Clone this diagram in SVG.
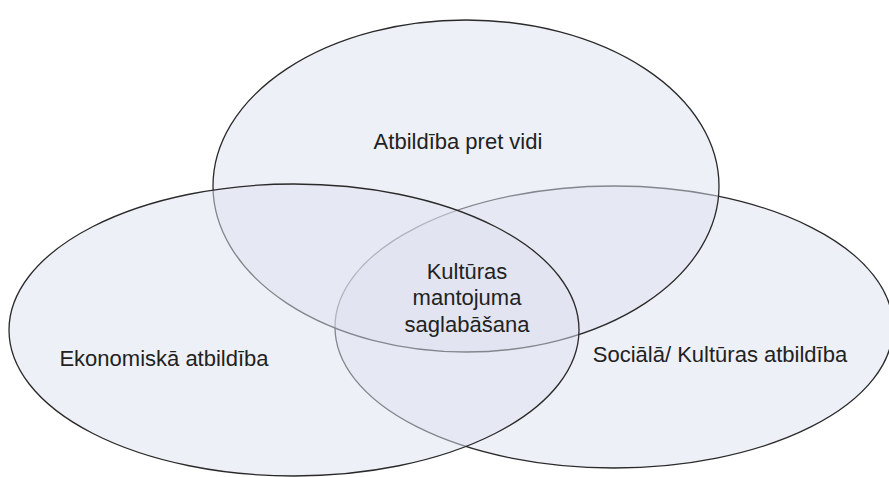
<svg xmlns="http://www.w3.org/2000/svg" width="889" height="477" viewBox="0 0 889 477">
<style>
.set{fill:#dde1f0;fill-opacity:0.5;stroke:#2a2a2a;stroke-width:1.3}
.lbl{font-family:"Liberation Sans",Arial,sans-serif;font-size:22px;fill:#222;text-anchor:middle}
</style>
<rect width="889" height="477" fill="#ffffff"/>
<g id="social">
<ellipse class="set" cx="614" cy="327" rx="279" ry="141"/>
</g>
<g id="environment">
<ellipse class="set" cx="466" cy="186" rx="253" ry="166"/>
</g>
<g id="economic">
<ellipse class="set" cx="294" cy="330" rx="285" ry="146"/>
</g>
<g id="connectors"></g>
<g id="labels">
<text class="lbl" x="458" y="149">Atbildība pret vidi</text>
<text class="lbl" x="164" y="366">Ekonomiskā atbildība</text>
<text class="lbl" x="720" y="362">Sociālā/ Kultūras atbildība</text>
<text class="lbl" x="467" y="279">Kultūras</text>
<text class="lbl" x="467" y="305">mantojuma</text>
<text class="lbl" x="467" y="332">saglabāšana</text>
</g>
</svg>
